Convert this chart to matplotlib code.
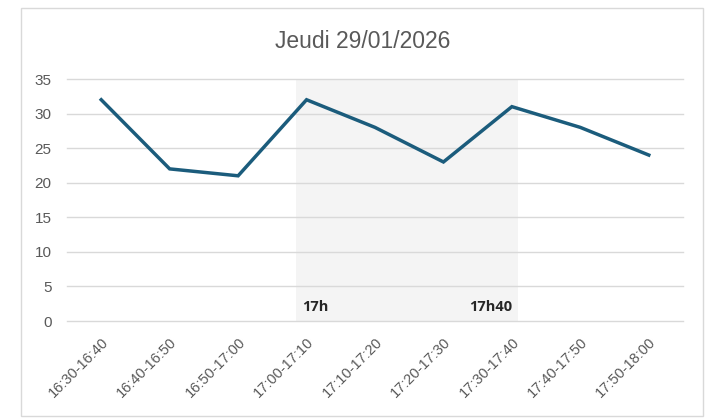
import matplotlib
matplotlib.use("Agg")
import matplotlib.pyplot as plt
from matplotlib.patches import Rectangle

categories = ["16:30-16:40", "16:40-16:50", "16:50-17:00", "17:00-17:10", "17:10-17:20",
              "17:20-17:30", "17:30-17:40", "17:40-17:50", "17:50-18:00"]
values = [32, 22, 21, 32, 28, 23, 31, 28, 24]
yticks = [0, 5, 10, 15, 20, 25, 30, 35]
title = "Jeudi 29/01/2026"
span_start, span_end = 2.85, 6.09
marks = [("17h", 3, "left"), ("17h40", 6, "right")]

font = "Liberation Sans"

fig = plt.figure(figsize=(7.15, 4.19), dpi=100)
fig.patch.set_facecolor("white")
fig.patches.append(Rectangle((21/715, 1-416/419), (703-21)/715, (416-8)/419,
                             transform=fig.transFigure, fill=False, edgecolor="#D9D9D9", lw=1))

ax = fig.add_axes([67/715, 1-321/419, (683-67)/715, (321-79)/419])
x = list(range(len(categories)))
ax.axvspan(span_start, span_end, ymin=0, ymax=1, color="#F4F4F4", zorder=0, lw=0)
for yv in yticks:
    ax.axhline(yv, color="#D9D9D9", lw=1, zorder=1, clip_on=False)
ax.plot(x, values, color="#1B5C7C", lw=2.5, zorder=3, solid_joinstyle="miter")
ax.set_xlim(-0.5, len(categories) - 0.5)
ax.set_ylim(0, 35)
ax.set_yticks(yticks)
ax.set_yticklabels([str(v) for v in yticks], fontsize=11, color="#595959", family=font)
ax.set_xticks(x)
ax.set_xticklabels(categories, rotation=45, ha="right", va="top", rotation_mode="anchor",
                   fontsize=10.5, color="#595959", family=font)
ax.tick_params(length=0, axis="y", pad=11)
ax.tick_params(length=0, axis="x", pad=10)
for s in ax.spines.values():
    s.set_visible(False)
ax.set_facecolor("none")
for txt, xi, ha in marks:
    off = -0.06 if ha == "left" else 0.0
    ax.text(xi + off, 1.0, txt, ha=ha, va="bottom", fontsize=10.5, fontweight="bold",
            color="#262626", family="Open Sans", zorder=4)

fig.text(363/715, 1-41/419, title, ha="center", va="center", fontsize=16.5, color="#595959",
         family=font)

fig.savefig("out.png", dpi=100)
